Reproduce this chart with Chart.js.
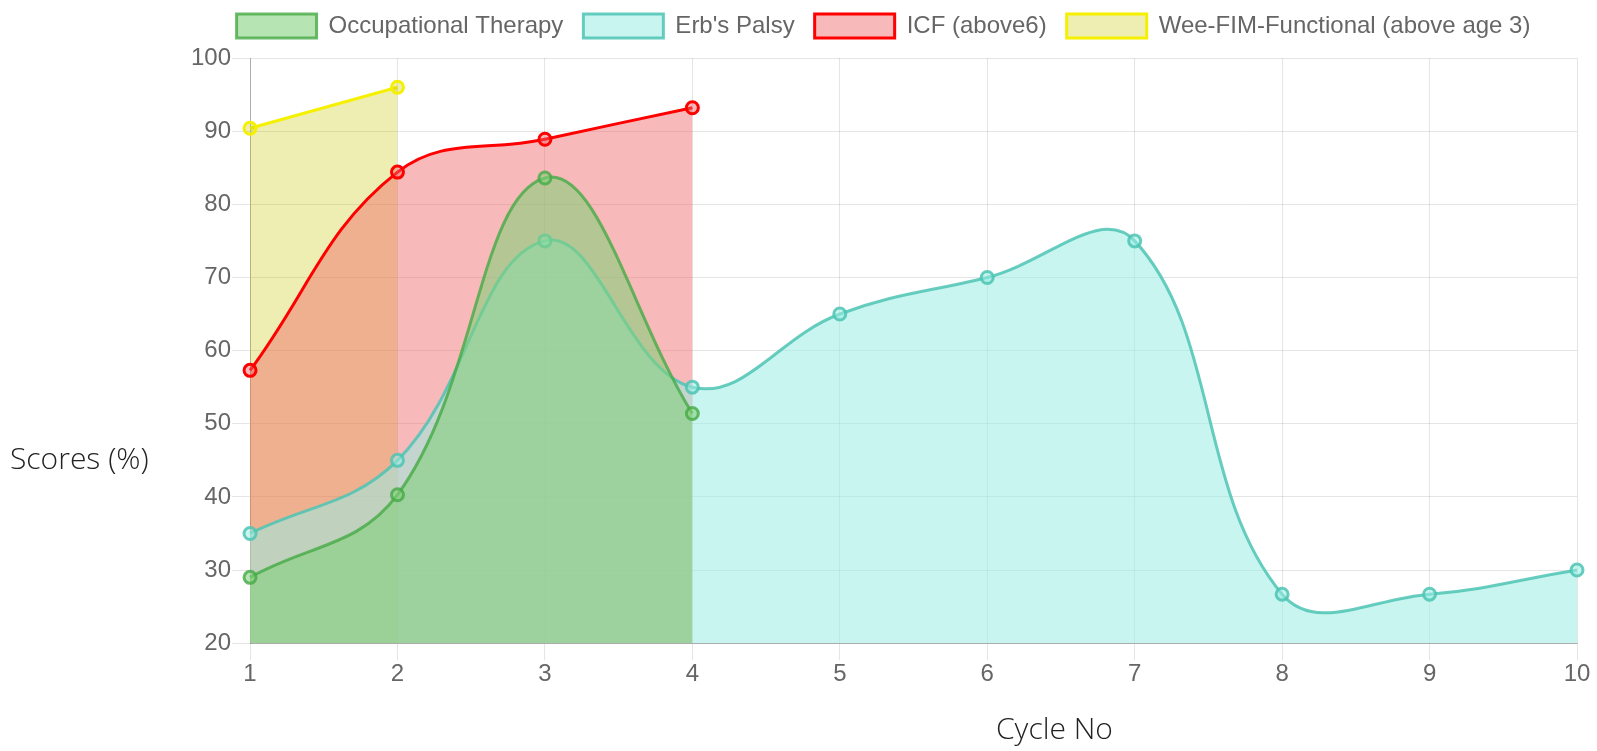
<!DOCTYPE html>
<html>
<head>
<meta charset="utf-8">
<script src="https://cdn.jsdelivr.net/npm/chart.js@4.4.0/dist/chart.umd.min.js"></script>
<style>
  html, body { margin: 0; padding: 0; background: #fff; overflow: hidden; }
  #wrap { position: relative; width: 1597px; height: 751px; }
  #wrap canvas { position: absolute; left: 0; top: -6px; }
  .axis-title {
    position: absolute;
    font-family: 'Open Sans', 'Noto Sans', sans-serif;
    font-weight: 300;
    font-size: 30px;
    color: #222;
    white-space: nowrap;
  }
  #yTitle { left: 10px; top: 437px; }
  #xTitle { left: 996px; top: 707px; }
</style>
</head>
<body>
<div id="wrap">
  <canvas id="scoreChart" width="1597" height="759"></canvas>
  <div class="axis-title" id="yTitle">Scores (%)</div>
  <div class="axis-title" id="xTitle">Cycle No</div>
</div>
<script>
// ===== data =====
const cycles = ['1', '2', '3', '4', '5', '6', '7', '8', '9', '10'];

const occupationalTherapy = [29, 40.3, 83.6, 51.4];
const erbsPalsy = [35, 45, 75, 55, 65, 70, 75, 26.7, 26.7, 30];
const icfAbove6 = [57.3, 84.4, 88.9, 93.2];
const weeFim = [90.4, 96];

const yTicks = { min: 20, max: 100, step: 10 };

// ===== styling =====
const FONT_FAMILY = '"Liberation Sans", Arial, Helvetica, sans-serif';
const TICK_COLOR = '#666';

function series(label, data, line, fill) {
  return {
    label,
    data,
    borderColor: line,
    backgroundColor: fill,
    pointBorderColor: line,
    pointBackgroundColor: fill,
    borderWidth: 3,
    pointRadius: 6,
    pointBorderWidth: 3,
    pointHoverRadius: 6,
    tension: 0.4,
    fill: 'origin'
  };
}

const datasets = [
  series('Occupational Therapy', occupationalTherapy, 'rgba(70,170,70,0.8)', 'rgba(129,208,122,0.58)'),
  series("Erb's Palsy", erbsPalsy, 'rgba(78,196,180,0.85)', 'rgba(155,237,228,0.55)'),
  series('ICF (above6)', icfAbove6, '#ff0000', 'rgba(238,100,100,0.45)'),
  series('Wee-FIM-Functional (above age 3)', weeFim, '#f5f000', 'rgba(200,200,0,0.3)')
];

// extra space under the legend
const legendMargin = {
  id: 'legendMargin',
  beforeInit(chart) {
    const fit = chart.legend.fit;
    chart.legend.fit = function () {
      fit.bind(chart.legend)();
      this.height += 10;
    };
  }
};

Chart.defaults.font.family = FONT_FAMILY;
Chart.defaults.color = TICK_COLOR;

new Chart(document.getElementById('scoreChart'), {
  type: 'line',
  data: { labels: cycles, datasets },
  plugins: [legendMargin],
  options: {
    responsive: false,
    animation: false,
    layout: { padding: { left: 190, right: 20, bottom: 64 } },
    plugins: {
      legend: {
        position: 'top',
        labels: {
          boxWidth: 80,
          boxHeight: 24,
          padding: 20,
          font: { size: 24 },
          color: TICK_COLOR
        }
      },
      tooltip: { enabled: false }
    },
    scales: {
      x: {
        grid: { color: 'rgba(0,0,0,0.1)', tickLength: 17 },
        border: { color: 'rgba(0,0,0,0.25)' },
        ticks: { font: { size: 24 }, color: TICK_COLOR, padding: 0, maxRotation: 0 }
      },
      y: {
        min: yTicks.min,
        max: yTicks.max,
        grid: { color: 'rgba(0,0,0,0.1)', tickLength: 18 },
        border: { color: 'rgba(0,0,0,0.25)' },
        ticks: { stepSize: yTicks.step, font: { size: 24 }, color: TICK_COLOR, padding: 1 }
      }
    }
  }
});
</script>
</body>
</html>
